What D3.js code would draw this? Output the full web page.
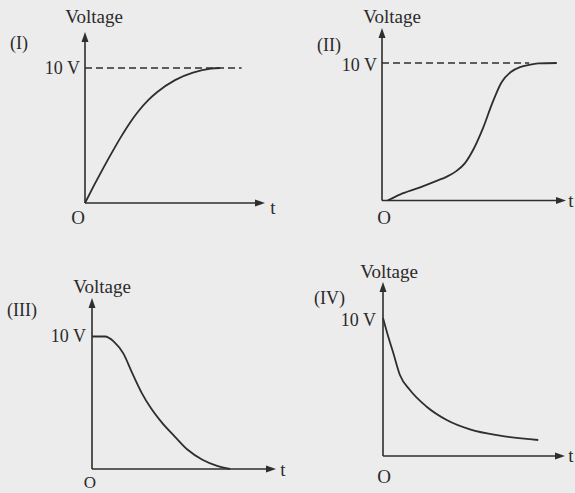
<!DOCTYPE html>
<html>
<head>
<meta charset="utf-8">
<script src="https://cdn.jsdelivr.net/npm/d3@7"></script>
<style>
  html, body { margin: 0; padding: 0; background: #ececec; }
  svg { display: block; }
</style>
</head>
<body>
<svg id="chart" width="575" height="493"></svg>
<script>
// ---- data (t in arbitrary units 0..10, voltage in V) ----
const panelNames = ["(I)", "(II)", "(III)", "(IV)"];
const yTickLabel = "10 V";
const yAxisTitle = "Voltage";
const xAxisTitle = "t";
const originLabel = "O";
const fullVoltage = 10;

const tI = [0, 0.5, 1, 1.5, 2, 2.5, 3, 3.5, 4, 5, 6, 7, 7.5];
const vI = [0, 1.3, 2.55, 3.75, 4.9, 5.95, 6.85, 7.6, 8.2, 9.1, 9.65, 9.95, 10];

const tII = [0.3, 1, 2, 3, 3.5, 4, 4.5, 5, 5.5, 6, 6.5, 7, 7.5, 8, 8.5, 9.5];
const vII = [0, 0.45, 0.92, 1.45, 1.72, 2.1, 2.7, 3.8, 5.3, 7.1, 8.6, 9.35, 9.7, 9.87, 9.97, 10];

const tIII = [0, 0.7, 1.2, 1.7, 2.2, 2.7, 3.2, 3.8, 4.5, 5.2, 6, 6.8, 7.5];
const vIII = [10, 10, 9.6, 8.73, 7.2, 5.75, 4.6, 3.5, 2.45, 1.45, 0.7, 0.24, 0];

const tIV = [0, 0.29, 0.57, 0.93, 1.48, 2.4, 3.5, 4.78, 6.43, 8.53];
const vIV = [10, 8.64, 7.44, 5.87, 4.78, 3.57, 2.61, 1.93, 1.47, 1.16];

const dashedEnd = [8.7, 8.0, null, null];   // t where the dashed 10 V guide stops

// ---- layout (pixel geometry of each small panel) ----
const layout = [
  { ox: 85,  oy: 203,   xEnd: 265, yTen: 68,    yTop: 32 },
  { ox: 382, oy: 200.5, xEnd: 566, yTen: 63,    yTop: 28 },
  { ox: 92,  oy: 469,   xEnd: 276, yTen: 336.5, yTop: 298 },
  { ox: 383, oy: 456,   xEnd: 565, yTen: 318,   yTop: 282 }
];
const labelPos = [
  { name: [10, 49],  volt: [94, 23],  ten: [80, 74],  o: [78, 224],  t: [273, 214] },
  { name: [317, 51], volt: [392, 23], ten: [377, 71], o: [384, 224], t: [571, 207] },
  { name: [7, 316],  volt: [102, 293], ten: [86, 342], o: [90, 488], t: [283, 476] },
  { name: [314, 304], volt: [389, 278], ten: [376, 326], o: [384, 483], t: [571, 462] }
];

const series = [[tI, vI], [tII, vII], [tIII, vIII], [tIV, vIV]];
const ink = "#2e2e2e";
const font = "'Liberation Serif', 'Times New Roman', Times, 'DejaVu Serif', serif";
const svg = d3.select("#chart");

layout.forEach((L, i) => {
  const x = d3.scaleLinear().domain([0, 10]).range([L.ox, L.xEnd]);
  const y = d3.scaleLinear().domain([0, fullVoltage]).range([L.oy, L.yTen]);
  const g = svg.append("g");

  // dashed guide at 10 V
  if (dashedEnd[i] !== null) {
    g.append("line")
      .attr("x1", x(0)).attr("x2", x(dashedEnd[i]))
      .attr("y1", y(fullVoltage)).attr("y2", y(fullVoltage))
      .attr("stroke", ink).attr("stroke-width", 1.6)
      .attr("stroke-dasharray", "7,4");
  }

  // axes
  g.append("line").attr("x1", x(0)).attr("x2", x(0))
    .attr("y1", y(0)).attr("y2", L.yTop + 6)
    .attr("stroke", ink).attr("stroke-width", 1.6);
  g.append("line").attr("x1", x(0)).attr("x2", L.xEnd - 6)
    .attr("y1", y(0)).attr("y2", y(0))
    .attr("stroke", ink).attr("stroke-width", 1.6);
  // arrow heads
  g.append("path")
    .attr("d", `M${x(0)},${L.yTop} L${x(0) - 3.5},${L.yTop + 10} L${x(0) + 3.5},${L.yTop + 10} Z`)
    .attr("fill", ink);
  g.append("path")
    .attr("d", `M${L.xEnd},${y(0)} L${L.xEnd - 10},${y(0) - 3.5} L${L.xEnd - 10},${y(0) + 3.5} Z`)
    .attr("fill", ink);

  // curve
  const [ts, vs] = series[i];
  const pts = ts.map((t, k) => [t, vs[k]]);
  g.append("path")
    .datum(pts)
    .attr("d", d3.line().x(d => x(d[0])).y(d => y(d[1])).curve(d3.curveMonotoneX))
    .attr("fill", "none").attr("stroke", ink).attr("stroke-width", 1.8);

  // texts
  const P = labelPos[i];
  const txt = (pos, s, size, anchor) => g.append("text")
    .attr("x", pos[0]).attr("y", pos[1])
    .attr("font-family", font).attr("font-size", size)
    .attr("fill", "#2a2a2a").attr("text-anchor", anchor).text(s);
  txt(P.name, panelNames[i], 18, "start");
  txt(P.volt, yAxisTitle, 19, "middle");
  txt(P.ten, yTickLabel, 18, "end");
  txt(P.o, originLabel, i === 2 ? 17 : 19, "middle");
  txt(P.t, xAxisTitle, 19, "middle");
});
</script>
</body>
</html>
